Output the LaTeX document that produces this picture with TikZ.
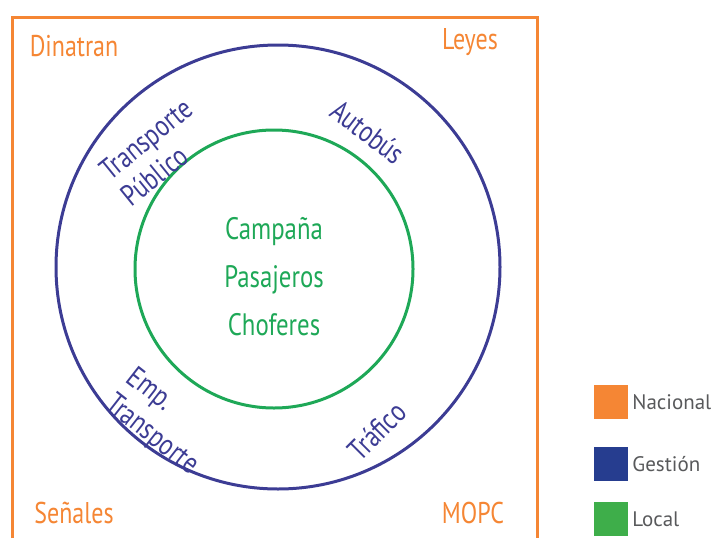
\documentclass[tikz,border=0pt]{standalone}
\usepackage{fontspec}
\setmainfont{PT Sans}
\newfontfamily\condfont{PT Sans}[FakeStretch=0.8]
\definecolor{nacional}{RGB}{245,134,52}
\definecolor{gestion}{RGB}{60,60,148}
\definecolor{gestionbox}{RGB}{38,61,143}
\definecolor{local}{RGB}{30,168,87}
\definecolor{localbox}{RGB}{62,174,74}
\definecolor{legendtext}{RGB}{88,89,91}

\begin{document}
\begin{tikzpicture}[
        x=1pt,y=-1pt,
        corner/.style={font={\fontsize{30}{32}\selectfont\condfont},text=nacional},
        ring/.style={font={\fontsize{30}{34}\selectfont\condfont},text=gestion,align=left,inner sep=0pt},
        core/.style={font={\fontsize{31}{48}\selectfont\condfont},text=local,align=center},
        legendbox/.style={minimum size=34pt,inner sep=0pt},
        legendlabel/.style={font={\fontsize{21}{24}\selectfont},text=legendtext,anchor=west,inner sep=2pt}
        ]

        \useasboundingbox (0,0) rectangle (714,538);

        % Frame (open at the bottom)
        \draw[nacional,line width=3pt] (12,538)--(12,17)--(537,17)--(537,538);

        % Rings
        \draw[gestion,line width=3pt] (278,267) circle (222);
        \draw[local,line width=3pt] (274,269) circle (139);

        % Corner labels
        \node[corner] (dinatran) at (74,46) {Dinatran};
        \node[corner] (leyes) at (470,42) {Leyes};
        \node[corner] (senales) at (74,513) {Señales};
        \node[corner] (mopc) at (473,513) {MOPC};

        % Labels between the rings
        \node[ring,rotate=39] (publico) at (157,152) {Transporte\\Público};
        \node[ring,rotate=-37] (autobus) at (368,132) {Autobús};
        \node[ring,rotate=-38] (empresa) at (162,422) {Emp.\\Transporte};
        \node[ring,rotate=45] (trafico) at (377,431) {Tráfico};

        % Centre
        \node[core] (centro) at (274,277) {Campaña\\Pasajeros\\Choferes};

        % Legend
        \node[legendbox,fill=nacional] (nacbox) at (611,402) {};
        \node[legendbox,fill=gestionbox] (gesbox) at (611,464) {};
        \node[legendbox,fill=localbox] (locbox) at (611,519) {};
        \node[legendlabel] (nac) at ([xshift=2pt]nacbox.east) {Nacional};
        \node[legendlabel] (ges) at ([xshift=2pt]gesbox.east) {Gestión};
        \node[legendlabel] (loc) at ([xshift=2pt]locbox.east) {Local};
\end{tikzpicture}
\end{document}
